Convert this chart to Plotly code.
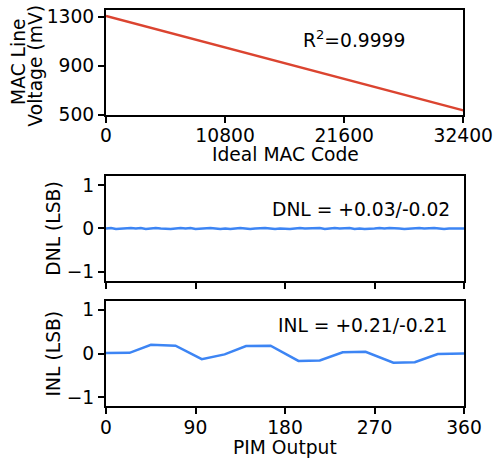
import plotly.graph_objects as go

# Top panel: MAC line voltage vs ideal MAC code
mac_code = [0, 32400]
mac_voltage = [1305, 537]
mac_xticks = [0, 10800, 21600, 32400]
mac_yticks = [500, 900, 1300]

# DNL panel
dnl_x = list(range(0, 361, 5))
dnl_y = [0.00, 0.01, -0.01, 0.00, 0.01, 0.01, 0.00, 0.01, -0.01, 0.00,
         0.01, 0.00, -0.01, -0.01, 0.00, 0.01, 0.00, 0.01, -0.01, 0.00,
         0.01, 0.01, 0.00, -0.01, 0.00, -0.01, 0.00, 0.01, 0.00, -0.01,
         0.00, 0.01, 0.01, 0.00, -0.01, 0.00, -0.01, -0.01, 0.00, 0.01,
         0.00, 0.00, 0.01, 0.01, -0.01, 0.00, 0.01, 0.00, 0.01, 0.01,
         -0.01, 0.00, -0.01, -0.01, 0.00, 0.01, 0.00, 0.01, 0.01, 0.00,
         -0.01, 0.00, 0.00, 0.01, 0.00, 0.01, 0.01, 0.00, -0.01, 0.00,
         0.00, 0.01, 0.00]

# INL panel
inl_x = [0, 23.7, 45.2, 56.5, 69.9, 96.3, 119.3, 140.8, 153, 165.5, 193.5, 215, 238, 261, 289, 310.5, 333.6, 360]
inl_y = [0.01, 0.015, 0.20, 0.19, 0.18, -0.13, -0.02, 0.17, 0.17, 0.18, -0.17, -0.16, 0.03, 0.04, -0.21, -0.20, -0.01, 0.0]
pim_xticks = [0, 90, 180, 270, 360]
lsb_yticks = [-1, 0, 1]

RED = "#db4430"
BLUE = "#3d85f4"
FONT = "DejaVu Sans"
FS = 18.7

W, H = 500, 459
ML, MR, MT, MB = 106, 30, 6, 53
PW, PH = W - ML - MR, H - MT - MB

fig = go.Figure()
fig.add_trace(go.Scatter(x=mac_code, y=mac_voltage, mode="lines",
                         line=dict(color=RED, width=2.5), xaxis="x", yaxis="y"))
fig.add_trace(go.Scatter(x=dnl_x, y=dnl_y, mode="lines",
                         line=dict(color=BLUE, width=2.5), xaxis="x2", yaxis="y2"))
fig.add_trace(go.Scatter(x=inl_x, y=inl_y, mode="lines",
                         line=dict(color=BLUE, width=2.5), xaxis="x3", yaxis="y3"))

axis_common = dict(showline=True, linecolor="black", linewidth=2, mirror=True,
                   ticks="outside", ticklen=6, tickwidth=1.5, tickcolor="black",
                   showgrid=False, zeroline=False, ticklabeloverflow="allow",
                   tickfont=dict(family=FONT, size=FS, color="black"))

def dom(p_top, p_bot):
    # page pixel rows -> paper domain
    return [max(0, (PH - (p_bot - MT)) / PH), min(1, (PH - (p_top - MT)) / PH)]

fig.update_layout(
    width=W, height=H, autosize=False,
    margin=dict(l=ML, r=MR, t=MT, b=MB),
    paper_bgcolor="white", plot_bgcolor="white",
    showlegend=False,
    font=dict(family=FONT, size=FS, color="black"),
    xaxis=dict(domain=[0, 0.998], range=[0, 32400], tickvals=mac_xticks, tickformat="d",
               ticklabelstandoff=-3, anchor="y", **axis_common),
    yaxis=dict(domain=dom(6, 112), range=[500, 1354], tickvals=mac_yticks, anchor="x", **axis_common),
    xaxis2=dict(domain=[0, 1], range=[0, 360], tickvals=pim_xticks, showticklabels=False, anchor="y2", **axis_common),
    yaxis2=dict(domain=dom(174, 279.3), range=[-1.2, 1.2], tickvals=lsb_yticks, anchor="x2", **axis_common),
    xaxis3=dict(domain=[0, 1], range=[0, 360], tickvals=pim_xticks, ticklabelstandoff=-2,
                anchor="y3", **axis_common),
    yaxis3=dict(domain=dom(300, 406), range=[-1.2, 1.2], tickvals=lsb_yticks, anchor="x3", **axis_common),
)

def ann_px(text, px, py, xanchor="center", yanchor="middle", angle=0):
    x = (px - ML) / PW
    y = (PH - (py - MT)) / PH
    fig.add_annotation(text=text, x=x, y=y, xref="paper", yref="paper",
                       xanchor=xanchor, yanchor=yanchor, showarrow=False, textangle=angle,
                       font=dict(family=FONT, size=FS, color="black"))

ann_px("R<sup>2</sup>=0.9999", 358, 35)
ann_px("DNL = +0.03/-0.02", 458, 208, xanchor="right")
ann_px("INL = +0.21/-0.21", 455, 325, xanchor="right")
ann_px("Ideal MAC Code", 288, 152)
ann_px("PIM Output", 288, 448)
ann_px("MAC Line", 17, 58, angle=-90)
ann_px("Voltage (mV)", 34, 62, angle=-90)
ann_px("DNL (LSB)", 53, 227, angle=-90)
ann_px("INL (LSB)", 53, 353, angle=-90)

fig.write_html("out.html", config={"displayModeBar": False, "responsive": False},
               post_script="document.body.style.margin='0';document.body.style.overflow='hidden';")
